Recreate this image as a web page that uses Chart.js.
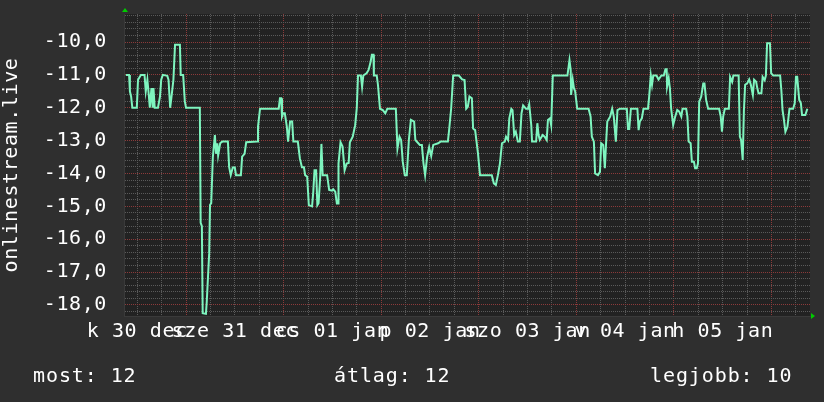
<!DOCTYPE html>
<html>
<head>
<meta charset="utf-8">
<script src="https://cdn.jsdelivr.net/npm/chart.js@4/dist/chart.umd.min.js"></script>
<style>
    html, body { margin: 0; padding: 0; background: #2f2f2f; }
</style>
</head>
<body>
<canvas id="rrdChart" width="824" height="402"></canvas>
<script>
// onlinestream.live – one week, hours counted from 30 dec 00:00

const hours = [
    9.2, 10.0, 10.2, 10.5, 10.8, 11.9, 12.2, 12.9, 13.8, 14.1,
    14.5, 14.8, 15.1, 15.5, 15.8, 16.0, 16.3, 17.1, 17.6, 17.9,
    18.3, 19.4, 19.7, 20.1, 20.4, 20.9, 21.3, 22.5, 22.7, 23.3,
    23.7, 24.0, 27.4, 27.6, 27.9, 28.1, 28.9, 29.1, 29.7, 29.9,
    30.2, 30.6, 31.1, 31.4, 31.7, 31.9, 32.4, 32.9, 34.3, 34.6,
    35.0, 35.5, 36.0, 36.3, 37.5,
    37.8, 38.4, 38.8, 41.5, 41.7, 42.2, 46.8, 47.1, 47.4, 47.6,
    47.9, 48.3, 48.8, 49.1, 49.6, 50.1, 50.4, 51.5, 52.0, 52.5,
    53.0, 53.3, 53.8, 54.2, 55.0, 55.3, 55.6, 56.0, 56.3, 56.6,
    57.0, 57.3, 57.6, 58.7, 59.2, 59.9, 60.2, 60.7, 61.1, 61.4,
    61.5, 62.0, 62.5, 63.0, 63.5, 64.0, 64.3, 65.0,
    65.6, 66.0, 66.3, 67.0, 67.3, 67.6, 68.4, 68.9, 69.4, 69.7,
    70.1, 70.2, 70.9, 71.2, 71.7, 72.4, 73.0, 73.5, 75.6, 76.0,
    76.5, 76.9, 77.3, 77.8, 78.3, 78.8, 79.3, 80.1, 80.4, 81.5,
    82.0, 82.4, 82.8, 83.3, 83.8, 84.3, 84.8, 86.0, 86.6, 88.4,
    88.7, 89.2, 89.7, 91.1, 91.9, 92.5, 92.9,
    93.3, 93.7, 94.3, 94.6, 95.1, 95.5, 95.8, 96.3, 99.2, 99.7,
    100.2, 100.7, 101.2, 101.7, 102.4, 102.7, 103.2, 103.5, 104.0, 104.3,
    104.7, 105.1, 105.6, 106.1, 106.5, 106.9, 107.6, 108.1, 108.4, 108.9,
    109.1, 110.1, 110.4, 110.7, 111.0, 111.7, 112.2, 112.7, 113.0, 113.5,
    113.8, 114.2, 117.8, 118.3, 118.6, 118.7, 119.1, 119.4, 119.7, 120.2,
    123.0, 123.5, 123.8, 124.3, 124.6, 125.3, 125.8, 126.1, 126.6, 127.0,
    127.3, 127.6, 128.3, 128.8, 129.2, 129.7, 130.1, 130.7, 132.4, 132.7,
    133.0, 133.4, 135.0, 135.3, 135.6, 136.1, 136.5, 137.6, 137.9, 138.3,
    138.6, 138.9, 139.7, 140.2, 140.9, 141.5, 141.9, 142.2, 142.3, 142.7,
    143.0, 143.3, 143.8, 144.3, 144.8, 145.3, 145.8, 146.1, 147.0, 147.3,
    147.6, 148.1, 148.4, 148.9, 149.2,
    149.6, 149.9, 150.2, 150.7, 151.2, 151.5, 151.9, 152.4, 155.1, 155.5,
    155.8, 156.1, 156.5, 157.5, 157.8, 158.3, 158.6, 159.9, 160.2, 160.5,
    160.9, 161.2, 161.5, 162.0, 162.5, 162.9, 163.4, 163.7, 164.2, 164.5,
    164.8, 165.5, 165.8, 166.3, 166.6, 166.9, 167.6, 167.9, 168.4, 170.1,
    170.4, 170.7, 171.0, 171.4, 171.9, 172.4, 173.3, 173.7, 174.0, 174.3,
    174.8, 175.2, 175.5, 176.3, 176.8
];

const values = [
    -11.0, -11.0, -11.5, -11.66, -12.0, -12.0, -11.15, -11.0, -11.0, -11.5,
    -11.15, -11.55, -12.0, -11.4, -12.0, -11.4, -12.0, -12.0, -11.66, -11.15,
    -11.0, -11.03, -11.15, -12.0, -11.7, -11.15, -10.08, -10.08, -11.0, -11.0,
    -11.8, -12.0, -12.0, -15.5, -15.6, -18.25, -18.27, -17.9, -16.43, -14.96,
    -14.9, -13.5, -12.83, -13.4, -13.08, -13.45, -13.08, -13.03, -13.03, -13.8,
    -14.05, -13.82, -13.82, -14.05, -14.05,
    -13.49, -13.4, -13.05, -13.03, -12.58, -12.03, -12.03, -11.71, -11.71, -12.27,
    -12.17, -12.17, -12.58, -13.03, -12.42, -12.42, -13.03, -13.03, -13.54, -13.81,
    -13.81, -14.05, -14.1, -14.96, -15.0, -14.55, -13.9, -13.9, -14.96, -14.9,
    -14.1, -13.1, -14.05, -14.05, -14.5, -14.52, -14.48, -14.55, -14.91, -14.91,
    -13.7, -13.05, -13.18, -13.9, -13.7, -13.68, -13.05, -12.88,
    -12.53, -12.0, -11.02, -11.02, -11.36, -11.02, -10.95, -10.85, -10.6, -10.39,
    -10.39, -11.02, -11.02, -11.3, -12.03, -12.07, -12.17, -12.03, -12.03, -13.24,
    -12.88, -12.98, -13.64, -14.05, -14.05, -12.98, -12.37, -12.42, -12.98, -13.13,
    -13.13, -13.69, -14.05, -13.49, -13.2, -13.47, -13.13, -13.08, -13.03, -13.03,
    -12.68, -12.03, -11.02, -11.02, -11.14, -11.16, -12.03,
    -11.97, -11.66, -11.71, -12.63, -12.68, -13.08, -13.39, -14.05, -14.05, -14.3,
    -14.35, -14.05, -13.69, -13.08, -13.03, -12.88, -12.98, -12.32, -12.03, -12.07,
    -12.83, -12.73, -13.03, -13.03, -12.17, -11.93, -12.03, -12.03, -11.89, -12.53,
    -13.03, -13.03, -12.47, -12.83, -12.98, -12.83, -12.88, -12.98, -12.37, -12.32,
    -12.53, -11.02, -11.02, -10.55, -10.85, -11.61, -11.15, -11.41, -11.5, -12.03,
    -12.03, -12.27, -12.88, -13.03, -14.0, -14.05, -13.95, -13.08, -13.13, -13.84,
    -13.08, -12.42, -12.27, -12.03, -12.27, -13.03, -12.07, -12.03, -12.03, -12.65,
    -12.65, -12.03, -12.03, -12.68, -12.42, -12.32, -12.03, -12.03, -11.66, -11.02,
    -11.3, -11.02, -11.02, -11.14, -11.02, -11.02, -10.83, -10.83, -11.36, -11.1,
    -11.41, -12.03, -12.53, -12.27, -12.07, -12.12, -12.27, -12.03, -12.03, -12.27,
    -13.03, -13.08, -13.64, -13.64, -13.84,
    -13.84, -13.69, -11.82, -11.66, -11.26, -11.26, -11.76, -12.03, -12.03, -12.27,
    -12.73, -12.27, -12.03, -12.03, -11.06, -11.21, -11.02, -11.02, -12.88, -12.98,
    -13.59, -12.07, -11.3, -11.26, -11.14, -11.3, -11.61, -11.15, -11.21, -11.41,
    -11.56, -11.56, -11.06, -11.16, -11.02, -10.04, -10.04, -10.95, -11.02, -11.02,
    -11.46, -12.07, -12.32, -12.73, -12.58, -12.03, -12.03, -11.86, -11.06, -11.06,
    -11.76, -11.86, -12.22, -12.22, -12.03
];

// day labels, centred at noon of each day
const dayLabels = ['k 30 dec', 'sze 31 dec', 'cs 01 jan', 'p 02 jan', 'szo 03 jan', 'v 04 jan', 'h 05 jan'];
const summaryLabels = ['most: 12', 'átlag: 12', 'legjobb: 10'];
const axisTitle = 'onlinestream.live';

const FONT = '"DejaVu Sans Mono", monospace';
const BG = '#2f2f2f';
const PLOT_BG = '#222222';
const LINE = '#7ef5bf';
const GRID_MINOR = '#5a5a5a';
const GRID_MAJOR = '#8c3a3a';

const isMajorX = v => Math.abs(v % 24) < 1e-6;

const rrdDecor = {
    id: 'rrdDecor',
    beforeDraw(chart) {
        const { ctx, chartArea: a } = chart;
        ctx.save();
        ctx.fillStyle = BG;
        ctx.fillRect(0, 0, chart.width, chart.height);
        ctx.fillStyle = PLOT_BG;
        ctx.fillRect(a.left, a.top, a.right - a.left, a.bottom - a.top);
        ctx.restore();
        // rrdtool text is a bit wider than plain DejaVu Sans Mono
        ctx.letterSpacing = '0.6px';
    },
    afterDraw(chart) {
        const { ctx, chartArea: a } = chart;
        ctx.save();
        // summary line under the graph
        ctx.font = '20px ' + FONT;
        ctx.letterSpacing = '0.9px';
        ctx.fillStyle = '#ffffff';
        ctx.textBaseline = 'alphabetic';
        ctx.textAlign = 'left';
        ctx.fillText(summaryLabels[0], 33, 382);
        ctx.fillText(summaryLabels[1], 334, 382);
        ctx.fillText(summaryLabels[2], 650, 382);
        // axis arrows
        ctx.fillStyle = '#00cc00';
        ctx.beginPath();
        ctx.moveTo(a.left - 2, a.top - 2);
        ctx.lineTo(a.left + 4, a.top - 2);
        ctx.lineTo(a.left + 1, a.top - 6);
        ctx.closePath();
        ctx.fill();
        ctx.beginPath();
        ctx.moveTo(a.right + 1, a.bottom - 3);
        ctx.lineTo(a.right + 1, a.bottom + 3);
        ctx.lineTo(a.right + 5, a.bottom);
        ctx.closePath();
        ctx.fill();
        ctx.restore();
    }
};

new Chart(document.getElementById('rrdChart'), {
    type: 'line',
    data: {
        datasets: [{
            data: hours.map((h, i) => ({ x: h, y: values[i] })),
            borderColor: LINE,
            borderWidth: 2,
            pointRadius: 0,
            tension: 0,
            fill: false
        }]
    },
    options: {
        responsive: false,
        animation: false,
        devicePixelRatio: 1,
        layout: { padding: { top: 14, right: 14, left: 0, bottom: 0 } },
        plugins: {
            legend: { display: false },
            tooltip: { enabled: false }
        },
        scales: {
            x: {
                type: 'linear',
                min: 8.75,
                max: 177.45,
                afterFit: scale => {
                    scale.height = 86;
                    scale.paddingLeft = 0;
                    scale.paddingRight = 0;
                },
                afterBuildTicks: scale => {
                    const t = [];
                    for (let h = 12; h <= 174; h += 6) t.push({ value: h });
                    scale.ticks = t;
                },
                // keep every 6-hour grid line, whatever auto skipping did
                afterTickToLabelConversion: scale => { scale.$allTicks = scale.ticks.slice(); },
                afterUpdate: scale => { if (scale.$allTicks) scale.ticks = scale.$allTicks; },
                grid: {
                    drawTicks: false,
                    lineWidth: 1,
                    color: c => (c.tick && isMajorX(c.tick.value)) ? GRID_MAJOR : GRID_MINOR
                },
                border: { display: true, color: '#3a3a3a', dash: [1, 1] },
                ticks: {
                    autoSkip: false,
                    maxRotation: 0,
                    padding: 4,
                    color: '#ffffff',
                    font: { family: FONT, size: 20 },
                    callback: v => ((v - 12) % 24 === 0) ? dayLabels[(v - 12) / 24] : ''
                }
            },
            y: {
                min: -18.335,
                max: -9.148,
                afterFit: scale => {
                    scale.width = 124;
                    scale.paddingTop = 0;
                    scale.paddingBottom = 0;
                },
                afterBuildTicks: scale => {
                    const t = [];
                    for (let k = -91; k <= -46; k++) t.push({ value: k / 5 });
                    scale.ticks = t;
                },
                grid: {
                    drawTicks: false,
                    color: c => (c.tick && Math.abs(c.tick.value - Math.round(c.tick.value)) < 1e-6) ? GRID_MAJOR : GRID_MINOR
                },
                border: { display: true, color: '#3a3a3a', dash: [1, 1] },
                ticks: {
                    autoSkip: false,
                    padding: 17,
                    color: '#ffffff',
                    font: { family: FONT, size: 20 },
                    callback: v => Math.abs(v - Math.round(v)) < 1e-6 ? v.toFixed(1).replace('.', ',') : ''
                },
                title: {
                    display: true,
                    text: axisTitle,
                    color: '#ffffff',
                    font: { family: FONT, size: 20, lineHeight: 1.2 },
                    padding: { top: 0, bottom: 0 }
                }
            }
        }
    },
    plugins: [rrdDecor]
});
</script>
</body>
</html>
